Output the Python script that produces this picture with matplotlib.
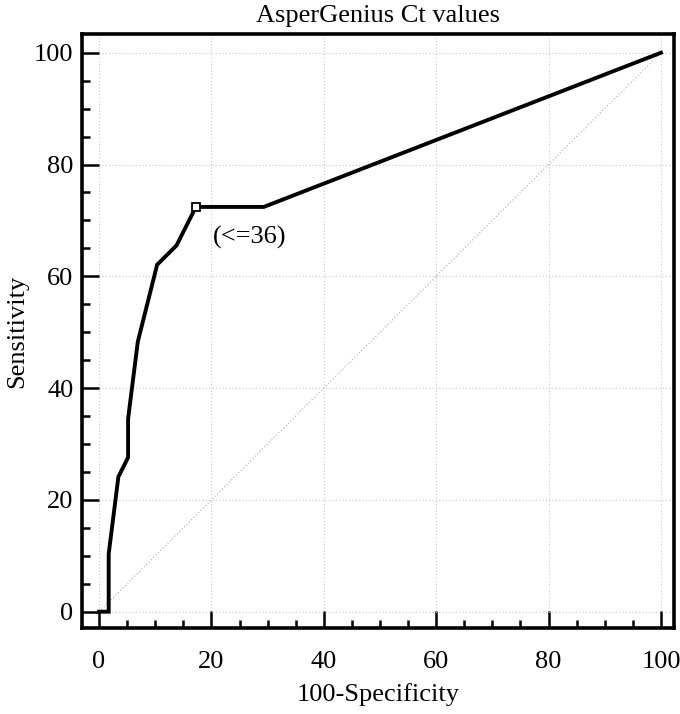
import numpy as np
from matplotlib import pyplot as plt
from matplotlib.ticker import MultipleLocator

# ROC points (100-Specificity, Sensitivity)
fpr = [0, 1.72, 1.72, 3.45, 5.17, 5.17, 6.90, 10.34, 13.79, 17.24, 29.31, 100]
tpr = [0, 0, 10.34, 24.14, 27.59, 34.48, 48.28, 62.07, 65.52, 72.41, 72.41, 100]
cut_x, cut_y = 17.24, 72.41
cut_label = '(<=36)'
title = 'AsperGenius Ct values'

plt.rcParams['font.family'] = ['Liberation Serif', 'DejaVu Serif']
fs = 19

fig = plt.figure(figsize=(6.8, 7.14), dpi=100)
ax = fig.add_axes([0.120, 0.1209, 0.871, 0.8311])

ax.plot([0, 100], [0, 100], color='#b0b0b0', lw=0.8, ls=(0, (1, 2)), zorder=1)
ax.plot(fpr, tpr, color='black', lw=2.8, solid_joinstyle='miter', zorder=3)
ax.plot([cut_x], [cut_y], marker='s', ms=6, mfc='white', mec='black', mew=1.3, zorder=4)
ax.text(cut_x + 3.0, cut_y - 5.4, cut_label, fontsize=fs, va='center', ha='left')

ax.set_xlim(-3.1, 102.3)
ax.set_ylim(-2.86, 103.3)
ax.xaxis.set_major_locator(MultipleLocator(20))
ax.yaxis.set_major_locator(MultipleLocator(20))
ax.xaxis.set_minor_locator(MultipleLocator(5))
ax.yaxis.set_minor_locator(MultipleLocator(5))
ax.tick_params(which='major', direction='in', length=12, width=1.8, labelsize=fs)
ax.tick_params(which='minor', direction='in', length=6, width=1.8)
ax.tick_params(axis='x', which='major', pad=17)
ax.tick_params(axis='y', which='major', pad=6)
ax.grid(True, which='major', color='#c8c8c8', lw=0.8, ls=(0, (1, 2)))
ax.set_axisbelow(True)
for s in ax.spines.values():
    s.set_linewidth(2.6)

ax.set_xlabel('100-Specificity', fontsize=fs, labelpad=7)
ax.set_ylabel('Sensitivity', fontsize=fs, labelpad=4)
ax.set_title(title, fontsize=fs, pad=9)

fig.savefig('out.png', dpi=100)
